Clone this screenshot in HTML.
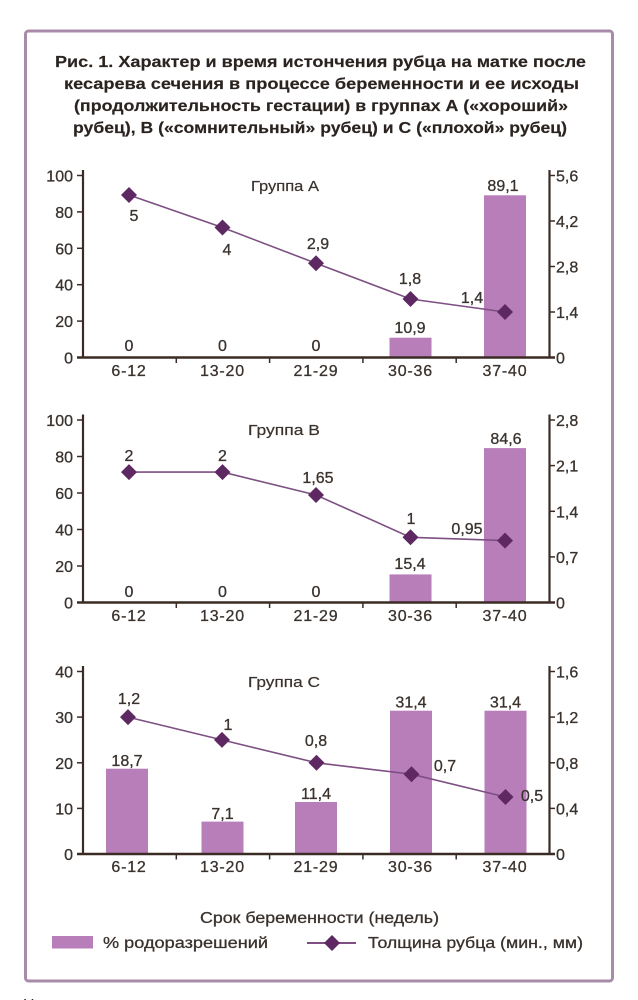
<!DOCTYPE html>
<html><head><meta charset="utf-8">
<style>
html,body{margin:0;padding:0;background:#fff;}
svg{display:block;}
text{font-family:"Liberation Sans",Arial,sans-serif;fill:#3a322d;}
.t{font-weight:bold;font-size:15.5px;fill:#2a2320;stroke:#2a2320;stroke-width:0.15;}
.n{font-size:16px;stroke:#3a322d;stroke-width:0.3;}
.c{font-size:16px;letter-spacing:0.8px;stroke:#3a322d;stroke-width:0.3;}
.g{font-size:14.5px;stroke:#3a322d;stroke-width:0.2;}
.l{font-size:16px;stroke:#3a322d;stroke-width:0.3;}
</style></head>
<body>
<svg width="638" height="1000" viewBox="0 0 638 1000" xmlns="http://www.w3.org/2000/svg">
<rect x="0" y="0" width="638" height="1000" fill="#fff"/>
<rect x="25.5" y="31" width="587" height="950" rx="3" fill="none" stroke="#a88aa9" stroke-width="3"/>

<!-- Title -->
<text class="t" x="55" y="67" textLength="531" lengthAdjust="spacingAndGlyphs">Рис. 1. Характер и время истончения рубца на матке после</text>
<text class="t" x="64" y="89" textLength="515" lengthAdjust="spacingAndGlyphs">кесарева сечения в процессе беременности и ее исходы</text>
<text class="t" x="74" y="111" textLength="494" lengthAdjust="spacingAndGlyphs">(продолжительность гестации) в группах А («хороший»</text>
<text class="t" x="73" y="133" textLength="494" lengthAdjust="spacingAndGlyphs">рубец), В («сомнительный» рубец) и С («плохой» рубец)</text>

<!-- ============ CHART A ============ -->
<g>
<rect x="389.5" y="337.7" width="42" height="19.8" fill="#b87eba"/>
<rect x="484" y="195.3" width="42" height="162.2" fill="#b87eba"/>
<polyline points="129,195 222.5,227.5 316,263.3 410.5,299 505,312" fill="none" stroke="#7d4f82" stroke-width="1.6"/>
<g fill="#5e2862">
<polygon points="129,187 137,195 129,203 121,195"/>
<polygon points="222.5,219.5 230.5,227.5 222.5,235.5 214.5,227.5"/>
<polygon points="316,255.3 324,263.3 316,271.3 308,263.3"/>
<polygon points="410.5,291 418.5,299 410.5,307 402.5,299"/>
<polygon points="505,304 513,312 505,320 497,312"/>
</g>
<g stroke="#3a2c24" fill="none">
<line x1="83" y1="170" x2="83" y2="358.5" stroke-width="2.2"/>
<line x1="549.5" y1="170" x2="549.5" y2="358.5" stroke-width="2.2"/>
<line x1="77" y1="357.5" x2="555" y2="357.5" stroke-width="2.4"/>
<g stroke-width="1.5">
<line x1="77" y1="175.5" x2="83" y2="175.5"/><line x1="77" y1="211.9" x2="83" y2="211.9"/><line x1="77" y1="248.3" x2="83" y2="248.3"/><line x1="77" y1="284.7" x2="83" y2="284.7"/><line x1="77" y1="321.1" x2="83" y2="321.1"/>
<line x1="549.5" y1="175.5" x2="555" y2="175.5"/><line x1="549.5" y1="221" x2="555" y2="221"/><line x1="549.5" y1="266.5" x2="555" y2="266.5"/><line x1="549.5" y1="312" x2="555" y2="312"/>
<line x1="176.3" y1="357.5" x2="176.3" y2="363"/><line x1="269.6" y1="357.5" x2="269.6" y2="363"/><line x1="362.9" y1="357.5" x2="362.9" y2="363"/><line x1="456.2" y1="357.5" x2="456.2" y2="363"/>
</g></g>
<g class="n" text-anchor="end">
<text x="73" y="181.5">100</text><text x="73" y="217.9">80</text><text x="73" y="254.3">60</text><text x="73" y="290.7">40</text><text x="73" y="327.1">20</text><text x="73" y="363.5">0</text>
</g>
<g class="n">
<text x="556" y="181.5">5,6</text><text x="556" y="227">4,2</text><text x="556" y="272.5">2,8</text><text x="556" y="318">1,4</text><text x="556" y="363.5">0</text>
</g>
<g class="c" text-anchor="middle">
<text x="129" y="376">6-12</text><text x="222.5" y="376">13-20</text><text x="316" y="376">21-29</text><text x="410.5" y="376">30-36</text><text x="505" y="376">37-40</text>
</g>
<g class="n" text-anchor="middle">
<text x="134" y="221">5</text><text x="227" y="255">4</text><text x="318" y="249">2,9</text><text x="410" y="284">1,8</text><text x="472" y="303">1,4</text>
<text x="410" y="333">10,9</text><text x="503" y="191">89,1</text>
<text x="129" y="351">0</text><text x="222.5" y="351">0</text><text x="316" y="351">0</text>
</g>
<text class="g" x="251" y="191" textLength="68" lengthAdjust="spacingAndGlyphs">Группа А</text>
</g>

<!-- ============ CHART B ============ -->
<g>
<rect x="389.5" y="574.4" width="42" height="28.1" fill="#b87eba"/>
<rect x="484" y="448.1" width="42" height="154.4" fill="#b87eba"/>
<polyline points="129,472.1 222.5,472.1 316,495 410.5,537.3 505,540.6" fill="none" stroke="#7d4f82" stroke-width="1.6"/>
<g fill="#5e2862">
<polygon points="129,464.1 137,472.1 129,480.1 121,472.1"/>
<polygon points="222.5,464.1 230.5,472.1 222.5,480.1 214.5,472.1"/>
<polygon points="316,487 324,495 316,503 308,495"/>
<polygon points="410.5,529.3 418.5,537.3 410.5,545.3 402.5,537.3"/>
<polygon points="505,532.6 513,540.6 505,548.6 497,540.6"/>
</g>
<g stroke="#3a2c24" fill="none">
<line x1="83" y1="414.5" x2="83" y2="603.5" stroke-width="2.2"/>
<line x1="549.5" y1="414.5" x2="549.5" y2="603.5" stroke-width="2.2"/>
<line x1="77" y1="602.5" x2="555" y2="602.5" stroke-width="2.4"/>
<g stroke-width="1.5">
<line x1="77" y1="420" x2="83" y2="420"/><line x1="77" y1="456.5" x2="83" y2="456.5"/><line x1="77" y1="493" x2="83" y2="493"/><line x1="77" y1="529.5" x2="83" y2="529.5"/><line x1="77" y1="566" x2="83" y2="566"/>
<line x1="549.5" y1="420" x2="555" y2="420"/><line x1="549.5" y1="465.6" x2="555" y2="465.6"/><line x1="549.5" y1="511.3" x2="555" y2="511.3"/><line x1="549.5" y1="556.9" x2="555" y2="556.9"/>
<line x1="176.3" y1="602.5" x2="176.3" y2="608"/><line x1="269.6" y1="602.5" x2="269.6" y2="608"/><line x1="362.9" y1="602.5" x2="362.9" y2="608"/><line x1="456.2" y1="602.5" x2="456.2" y2="608"/>
</g></g>
<g class="n" text-anchor="end">
<text x="73" y="426">100</text><text x="73" y="462.5">80</text><text x="73" y="499">60</text><text x="73" y="535.5">40</text><text x="73" y="572">20</text><text x="73" y="608.5">0</text>
</g>
<g class="n">
<text x="556" y="426">2,8</text><text x="556" y="471.6">2,1</text><text x="556" y="517.3">1,4</text><text x="556" y="562.9">0,7</text><text x="556" y="608.5">0</text>
</g>
<g class="c" text-anchor="middle">
<text x="129" y="621">6-12</text><text x="222.5" y="621">13-20</text><text x="316" y="621">21-29</text><text x="410.5" y="621">30-36</text><text x="505" y="621">37-40</text>
</g>
<g class="n" text-anchor="middle">
<text x="129" y="461">2</text><text x="222.5" y="461">2</text><text x="318" y="483">1,65</text><text x="411" y="524">1</text><text x="467" y="534">0,95</text>
<text x="410" y="569">15,4</text><text x="506" y="444">84,6</text>
<text x="129" y="597">0</text><text x="222.5" y="597">0</text><text x="316" y="597">0</text>
</g>
<text class="g" x="248" y="435" textLength="72" lengthAdjust="spacingAndGlyphs">Группа В</text>
</g>

<!-- ============ CHART C ============ -->
<g>
<rect x="106" y="768.7" width="42" height="85.3" fill="#b87eba"/>
<rect x="201.5" y="821.6" width="42" height="32.4" fill="#b87eba"/>
<rect x="295" y="802" width="42" height="52" fill="#b87eba"/>
<rect x="390" y="710.7" width="42" height="143.3" fill="#b87eba"/>
<rect x="484.5" y="710.7" width="42" height="143.3" fill="#b87eba"/>
<polyline points="128,717.1 222,739.9 316.5,762.8 411.5,774.2 505.5,797" fill="none" stroke="#7d4f82" stroke-width="1.6"/>
<g fill="#5e2862">
<polygon points="128,709.1 136,717.1 128,725.1 120,717.1"/>
<polygon points="222,731.9 230,739.9 222,747.9 214,739.9"/>
<polygon points="316.5,754.8 324.5,762.8 316.5,770.8 308.5,762.8"/>
<polygon points="411.5,766.2 419.5,774.2 411.5,782.2 403.5,774.2"/>
<polygon points="505.5,789 513.5,797 505.5,805 497.5,797"/>
</g>
<g stroke="#3a2c24" fill="none">
<line x1="83" y1="666" x2="83" y2="855" stroke-width="2.2"/>
<line x1="549.5" y1="666" x2="549.5" y2="855" stroke-width="2.2"/>
<line x1="77" y1="854" x2="555" y2="854" stroke-width="2.4"/>
<g stroke-width="1.5">
<line x1="77" y1="671.5" x2="83" y2="671.5"/><line x1="77" y1="717.1" x2="83" y2="717.1"/><line x1="77" y1="762.8" x2="83" y2="762.8"/><line x1="77" y1="808.4" x2="83" y2="808.4"/>
<line x1="549.5" y1="671.5" x2="555" y2="671.5"/><line x1="549.5" y1="717.1" x2="555" y2="717.1"/><line x1="549.5" y1="762.8" x2="555" y2="762.8"/><line x1="549.5" y1="808.4" x2="555" y2="808.4"/>
<line x1="176.3" y1="854" x2="176.3" y2="859.5"/><line x1="269.6" y1="854" x2="269.6" y2="859.5"/><line x1="362.9" y1="854" x2="362.9" y2="859.5"/><line x1="456.2" y1="854" x2="456.2" y2="859.5"/>
</g></g>
<g class="n" text-anchor="end">
<text x="73" y="677.5">40</text><text x="73" y="723.1">30</text><text x="73" y="768.8">20</text><text x="73" y="814.4">10</text><text x="73" y="860">0</text>
</g>
<g class="n">
<text x="556" y="677.5">1,6</text><text x="556" y="723.1">1,2</text><text x="556" y="768.8">0,8</text><text x="556" y="814.4">0,4</text><text x="556" y="860">0</text>
</g>
<g class="c" text-anchor="middle">
<text x="129" y="872">6-12</text><text x="222.5" y="872">13-20</text><text x="316" y="872">21-29</text><text x="410.5" y="872">30-36</text><text x="505" y="872">37-40</text>
</g>
<g class="n" text-anchor="middle">
<text x="129" y="704">1,2</text><text x="228" y="730">1</text><text x="316" y="746">0,8</text><text x="445" y="771">0,7</text><text x="532" y="801">0,5</text>
<text x="127" y="766">18,7</text><text x="222.5" y="819">7,1</text><text x="316" y="799">11,4</text><text x="411" y="707.5">31,4</text><text x="505.5" y="707.5">31,4</text>
</g>
<text class="g" x="248" y="687" textLength="72" lengthAdjust="spacingAndGlyphs">Группа С</text>
</g>

<!-- Legend -->
<text class="l" x="200" y="923" textLength="239" lengthAdjust="spacingAndGlyphs">Срок беременности (недель)</text>
<rect x="52" y="936" width="41" height="12.5" fill="#b87eba"/>
<text class="l" x="103" y="948" textLength="165" lengthAdjust="spacingAndGlyphs">% родоразрешений</text>
<line x1="307" y1="943" x2="356" y2="943" stroke="#7d4f82" stroke-width="2"/>
<polygon points="332,935 340,943 332,951 324,943" fill="#5e2862"/>
<text class="l" x="368" y="948" textLength="215" lengthAdjust="spacingAndGlyphs">Толщина рубца (мин., мм)</text>

<text x="23" y="1010" style="font-size:16px;fill:#222;">Ц</text>
</svg>
</body></html>
